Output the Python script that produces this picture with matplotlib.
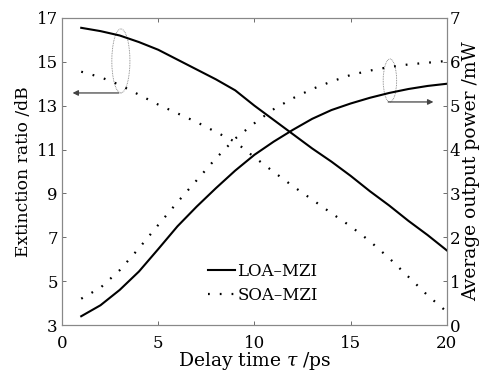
import matplotlib
matplotlib.use("Agg")
import matplotlib.pyplot as plt
from matplotlib.patches import Ellipse

plt.rcParams['font.family'] = ['DejaVu Serif']
plt.rcParams['mathtext.fontset'] = 'dejavuserif'

delay = [1, 2, 3, 4, 5, 6, 7, 8, 9, 10, 11, 12, 13, 14, 15, 16, 17, 18, 19, 20]
er_loa = [16.55, 16.4, 16.2, 15.9, 15.55, 15.1, 14.65, 14.2, 13.7, 13.0, 12.35, 11.7, 11.05, 10.45, 9.8, 9.1, 8.45, 7.75, 7.1, 6.4]
er_soa = [14.55, 14.3, 13.95, 13.5, 13.05, 12.65, 12.25, 11.8, 11.35, 10.65, 9.98, 9.33, 8.72, 8.1, 7.5, 6.82, 6.05, 5.2, 4.35, 3.6]
pw_loa = [0.2, 0.45, 0.8, 1.22, 1.73, 2.25, 2.7, 3.12, 3.52, 3.88, 4.18, 4.45, 4.7, 4.9, 5.05, 5.18, 5.29, 5.38, 5.45, 5.5]
pw_soa = [0.6, 0.85, 1.25, 1.75, 2.28, 2.8, 3.3, 3.8, 4.25, 4.6, 4.92, 5.17, 5.38, 5.55, 5.7, 5.8, 5.88, 5.94, 5.98, 6.02]

xticks = [0, 5, 10, 15, 20]
yticks_left = [3, 5, 7, 9, 11, 13, 15, 17]
yticks_right = [0, 1, 2, 3, 4, 5, 6, 7]

fig = plt.figure(figsize=(4.9, 3.74), dpi=100)
ax = fig.add_axes([0.1265, 0.131, 0.7855, 0.821])
ax2 = ax.twinx()

dot = (0, (0.8, 4.5))
l1, = ax.plot(delay, er_loa, color='black', lw=1.5, label='LOA\u2013MZI')
l2, = ax.plot(delay, er_soa, color='black', lw=1.6, linestyle=dot, label='SOA\u2013MZI')
ax2.plot(delay, pw_loa, color='black', lw=1.5)
ax2.plot(delay, pw_soa, color='black', lw=1.6, linestyle=dot)

ax.set_xlim(0, 20)
ax.set_ylim(3, 17)
ax2.set_ylim(0, 7)
ax.set_xticks(xticks)
ax.set_yticks(yticks_left)
ax2.set_yticks(yticks_right)

fs = 12
ax.set_xlabel('Delay time $\\tau$ /ps', fontsize=13.5, labelpad=-1)
ax.set_ylabel('Extinction ratio /dB', fontsize=12.3, labelpad=3)
ax2.set_ylabel('Average output power /mW', fontsize=13.5, labelpad=1)

for a in (ax, ax2):
    a.tick_params(direction='in', length=3, width=0.6, labelsize=fs, color='#555555')
    for s in a.spines.values():
        s.set_color('#888888')
        s.set_linewidth(0.8)
ax.tick_params(axis='x', pad=7)
ax.tick_params(axis='y', pad=3)
ax2.tick_params(axis='y', pad=2)
ax.tick_params(top=True)

# annotations
ax.add_patch(Ellipse((3.06, 15.04), 0.94, 2.92, fill=False, ls=(0, (1, 1)), lw=0.6, ec='#777777'))
ax.annotate('', xy=(0.55, 13.58), xytext=(2.95, 13.58),
            arrowprops=dict(arrowstyle='-|>', color='#444444', lw=0.9, mutation_scale=8, shrinkA=0, shrinkB=0))
ax.add_patch(Ellipse((17.04, 14.15), 0.7, 1.96, fill=False, ls=(0, (1, 1)), lw=0.6, ec='#777777'))
ax.annotate('', xy=(19.3, 13.17), xytext=(16.95, 13.17),
            arrowprops=dict(arrowstyle='-|>', color='#444444', lw=0.9, mutation_scale=8, shrinkA=0, shrinkB=0))

ax.legend(handles=[l1, l2], loc='upper left', bbox_to_anchor=(0.363, 0.225), frameon=False,
          fontsize=fs, handlelength=1.6, handletextpad=0.15, labelspacing=0.45, borderaxespad=0)

fig.savefig('out.png', dpi=100)
